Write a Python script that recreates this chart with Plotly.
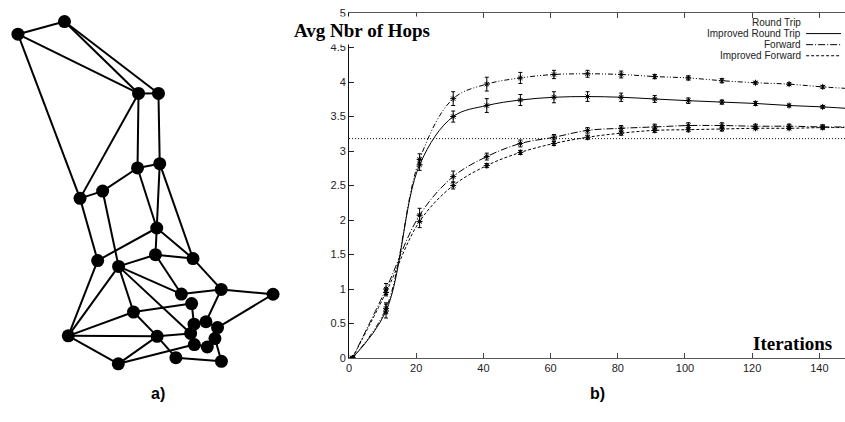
import plotly.graph_objects as go

# ---------------- data: (a) network topology ----------------
node_names = ["A", "B", "C", "D", "E", "F", "G", "H", "I", "J", "K", "L", "M", "N", "O",
              "P", "Q", "R", "S", "T", "U", "V", "W", "X", "Y", "Z", "AA", "AB", "AC", "AD"]
node_x = [15, 61.7, 136, 156, 135, 157.3, 100, 77.3, 154.3, 95, 116, 153, 190.7, 179, 219,
          271, 189.3, 131, 65.5, 154.7, 191.7, 203.7, 215.3, 188.3, 212.7, 192, 205, 115.7, 173.5, 219.2]
node_y = [29, 16, 90, 90, 166.7, 162.3, 190.5, 198, 228.5, 262, 268, 256, 260, 296.5, 291.7,
          296.7, 306.3, 315, 339.5, 340, 327.5, 325, 331, 337, 342.3, 348.5, 351, 368.3, 362, 365.7]
edges = [("A", "B"), ("A", "C"), ("B", "C"), ("B", "D"), ("A", "H"), ("C", "D"), ("C", "E"),
         ("C", "H"), ("D", "F"), ("E", "F"), ("E", "G"), ("G", "H"), ("E", "I"), ("F", "I"),
         ("F", "M"), ("G", "K"), ("H", "J"), ("I", "J"), ("I", "L"), ("I", "M"), ("J", "S"),
         ("K", "L"), ("K", "S"), ("K", "R"), ("K", "N"), ("K", "X"), ("L", "M"), ("L", "N"),
         ("M", "O"), ("N", "O"), ("O", "P"), ("O", "V"), ("P", "W"), ("Q", "U"), ("R", "Q"),
         ("R", "S"), ("R", "T"), ("S", "T"), ("S", "AB"), ("T", "AB"), ("T", "X"), ("T", "AC"),
         ("AB", "Z"), ("AC", "AD"), ("AD", "Y"), ("U", "V"), ("V", "W"), ("W", "Y"),
         ("Y", "AA"), ("AA", "Z"), ("Z", "X"), ("X", "U")]

# ---------------- data: (b) average number of hops ----------------
iterations = [1, 11, 21, 31, 41, 51, 61, 71, 81, 91, 101, 111, 121, 131, 141, 151]
round_trip = [0.0, 0.72, 2.88, 3.76, 3.97, 4.06, 4.11, 4.12, 4.11, 4.08, 4.06, 4.02, 3.99, 3.97, 3.93, 3.90]
round_trip_err = [0.01, 0.08, 0.08, 0.1, 0.1, 0.08, 0.06, 0.05, 0.05, 0.03, 0.03, 0.03, 0.02, 0.02, 0.02, 0.02]
improved_round_trip = [0.0, 0.68, 2.80, 3.50, 3.66, 3.74, 3.78, 3.79, 3.78, 3.755, 3.73, 3.71, 3.69, 3.66, 3.64, 3.61]
improved_round_trip_err = [0.01, 0.1, 0.08, 0.08, 0.1, 0.08, 0.08, 0.07, 0.06, 0.05, 0.04, 0.03, 0.03, 0.02, 0.02, 0.02]
forward = [0.0, 1.0, 2.07, 2.63, 2.92, 3.11, 3.20, 3.30, 3.33, 3.35, 3.37, 3.37, 3.36, 3.36, 3.35, 3.35]
forward_err = [0.01, 0.08, 0.1, 0.08, 0.05, 0.05, 0.04, 0.04, 0.04, 0.04, 0.04, 0.04, 0.03, 0.03, 0.03, 0.03]
improved_forward = [0.0, 0.95, 1.98, 2.50, 2.79, 2.98, 3.11, 3.20, 3.26, 3.30, 3.31, 3.32, 3.33, 3.33, 3.34, 3.34]
improved_forward_err = [0.01, 0.05, 0.09, 0.05, 0.03, 0.03, 0.03, 0.03, 0.03, 0.03, 0.03, 0.03, 0.02, 0.02, 0.02, 0.02]
reference_level = 3.18

series_names = ["Round Trip", "Improved Round Trip", "Forward", "Improved Forward"]
series_values = [round_trip, improved_round_trip, forward, improved_forward]
series_errors = [round_trip_err, improved_round_trip_err, forward_err, improved_forward_err]
x_ticks = [0, 20, 40, 60, 80, 100, 120, 140]
y_ticks = [0, 0.5, 1, 1.5, 2, 2.5, 3, 3.5, 4, 4.5, 5]

# ---------------- styling ----------------
W, H = 845, 422
dashes = ["5px,2px,1px,2px,1px,2px", "solid", "7px,2px,1px,2px", "3px,2px"]
tick_font = dict(family="Liberation Sans, Arial, sans-serif", size=11, color="#222")
serif_bold = dict(family="Liberation Serif, Times New Roman, serif", size=19, color="black")


def px(x):
    return x / W


def py(y):
    return 1 - y / H


fig = go.Figure()

# network edges
pos = {n: (x, y) for n, x, y in zip(node_names, node_x, node_y)}
ex, ey = [], []
for a, b in edges:
    ex += [pos[a][0], pos[b][0], None]
    ey += [pos[a][1], pos[b][1], None]
fig.add_trace(go.Scatter(x=ex, y=ey, mode="lines", line=dict(color="black", width=2),
                         xaxis="x2", yaxis="y2", showlegend=False, hoverinfo="skip"))
fig.add_trace(go.Scatter(x=node_x, y=node_y, mode="markers", text=node_names,
                         marker=dict(color="black", size=13, line=dict(width=0)),
                         xaxis="x2", yaxis="y2", showlegend=False))

# hop curves
for name, vals, errs, dash in zip(series_names, series_values, series_errors, dashes):
    fig.add_trace(go.Scatter(
        x=iterations, y=vals, name=name, mode="lines+markers",
        line=dict(color="black", width=1, dash=dash, shape="spline"),
        marker=dict(symbol="asterisk-open", size=5, color="black", line=dict(width=1, color="black")),
        error_y=dict(type="data", array=errs, visible=True, color="black", thickness=1, width=2),
        showlegend=False))

fig.add_hline(y=reference_level, line=dict(color="black", width=1, dash="1px,2px"))

annotations = [
    dict(text="<b>Avg Nbr of Hops</b>", x=px(360), y=py(25), xref="paper", yref="paper",
         showarrow=False, font=serif_bold, bgcolor="white", borderpad=3,
         xanchor="center", yanchor="middle"),
    dict(text="<b>Iterations</b>", x=px(834), y=py(347), xref="paper", yref="paper",
         showarrow=False, font=serif_bold, xanchor="right", yanchor="middle"),
    dict(text="<b>a)</b>", x=px(147), y=py(410), xref="paper", yref="paper", showarrow=False,
         font=dict(family="Liberation Sans, Arial, sans-serif", size=16, color="black")),
    dict(text="<b>b)</b>", x=px(606), y=py(410), xref="paper", yref="paper", showarrow=False,
         font=dict(family="Liberation Sans, Arial, sans-serif", size=16, color="black")),
]
shapes = []
for i, (name, dash) in enumerate(zip(series_names, dashes)):
    row = 17 + 11.4 * i
    annotations.append(dict(text=name, x=px(802), y=py(row), xref="paper", yref="paper",
                            showarrow=False, xanchor="right", yanchor="middle", borderpad=0,
                            font=dict(family="Liberation Sans, Arial, sans-serif", size=10, color="#222")))
    shapes.append(dict(type="line", xref="paper", yref="paper", x0=px(806), x1=px(841),
                       y0=py(row), y1=py(row), line=dict(color="black", width=1, dash=dash)))

fig.update_layout(
    width=W, height=H, margin=dict(l=0, r=0, t=0, b=0),
    paper_bgcolor="white", plot_bgcolor="white", showlegend=False,
    annotations=annotations, shapes=shapes,
    xaxis=dict(domain=[px(347.3), 1], range=[0, (W - 347.3) / 3.371], tickvals=x_ticks,
               ticks="inside", ticklen=5, tickcolor="#444", showline=True, linecolor="#555",
               linewidth=1, mirror="ticks", showgrid=False, zeroline=False, tickfont=tick_font),
    yaxis=dict(domain=[py(362.3), py(7.3)], range=[0, 5], tickvals=y_ticks,
               ticks="inside", ticklen=5, tickcolor="#222", showline=True, linecolor="#111",
               linewidth=1, showgrid=False, zeroline=False, tickfont=tick_font),
    xaxis2=dict(domain=[0, px(290)], range=[0, 290], visible=False, anchor="y2"),
    yaxis2=dict(domain=[0, 1], range=[H, 0], visible=False, anchor="x2"),
)

fig.write_html("out.html")
